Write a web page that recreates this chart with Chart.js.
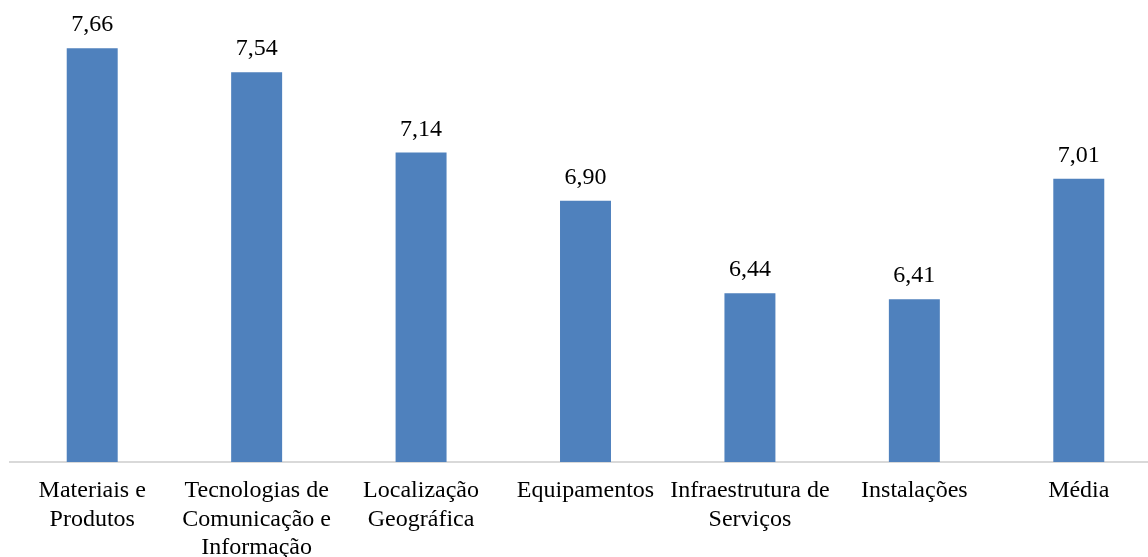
<!DOCTYPE html>
<html lang="pt">
<head>
<meta charset="utf-8">
<title>Médias por dimensão</title>
<script src="https://cdn.jsdelivr.net/npm/chart.js@4.4.1/dist/chart.umd.min.js"></script>
<style>
  html, body { margin: 0; padding: 0; background: #ffffff; overflow: hidden; }
  #wrap { width: 1161px; height: 557px; }
</style>
</head>
<body>
<div id="wrap"><canvas id="chart" width="1161" height="557"></canvas></div>
<script>
// Categorias (eixo horizontal), com quebras de linha dos rótulos
const categories = [
  ['Materiais e', 'Produtos'],
  ['Tecnologias de', 'Comunicação e', 'Informação'],
  ['Localização', 'Geográfica'],
  'Equipamentos',
  ['Infraestrutura de', 'Serviços'],
  'Instalações',
  'Média'
];

// Valor médio de cada categoria
const values = [7.66, 7.54, 7.14, 6.90, 6.44, 6.41, 7.01];

// Limites do eixo vertical (oculto)
const axisMin = 5.6;
const axisMax = 7.8;

const FONT = "'Liberation Serif', 'Times New Roman', serif";

// Escreve o valor de cada barra acima dela, com vírgula decimal
const valueLabels = {
  id: 'valueLabels',
  afterDatasetsDraw(chart) {
    const ctx = chart.ctx;
    const meta = chart.getDatasetMeta(0);
    const data = chart.data.datasets[0].data;
    ctx.save();
    ctx.font = '24px ' + FONT;
    ctx.fillStyle = '#000000';
    ctx.textAlign = 'center';
    ctx.textBaseline = 'alphabetic';
    meta.data.forEach((bar, i) => {
      const txt = data[i].toFixed(2).replace('.', ',');
      ctx.fillText(txt, bar.x, bar.y - 17);
    });
    ctx.restore();
  }
};

new Chart(document.getElementById('chart'), {
  type: 'bar',
  data: {
    labels: categories,
    datasets: [{
      data: values,
      backgroundColor: '#4F81BD',
      borderWidth: 0,
      barPercentage: 0.31,
      categoryPercentage: 1.0
    }]
  },
  options: {
    responsive: false,
    animation: false,
    devicePixelRatio: 1,
    layout: { padding: { left: 10, right: 0, top: 20, bottom: 0 } },
    plugins: {
      legend: { display: false },
      tooltip: { enabled: false }
    },
    scales: {
      x: {
        offset: true,
        grid: { display: false, drawTicks: false },
        border: { display: true, color: '#D9D9D9', width: 2 },
        ticks: {
          color: '#000000',
          padding: 15,
          maxRotation: 0,
          autoSkip: false,
          font: { family: FONT, size: 24, lineHeight: 1.18 }
        },
        afterFit(scale) { scale.height = 95; }
      },
      y: {
        display: false,
        min: axisMin,
        max: axisMax
      }
    }
  },
  plugins: [valueLabels]
});
</script>
</body>
</html>
